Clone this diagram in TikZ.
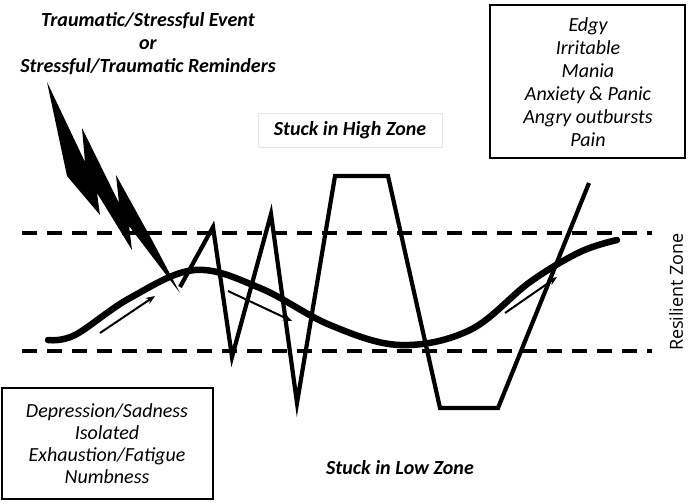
\documentclass[tikz,border=0pt]{standalone}
\usepackage{fontspec}
\setmainfont{Carlito}
\newfontfamily\rzfont{Open Sans}
\usetikzlibrary{arrows.meta}
\begin{document}
\begin{tikzpicture}[x=1pt,y=-1pt,
  txt/.style={font=\fontsize{20}{22}\selectfont\itshape, align=center, inner sep=0pt},
  btxt/.style={font=\fontsize{20}{22}\selectfont\bfseries\itshape, align=center, inner sep=0pt},
  box/.style={draw, line width=1.5pt},
  zone/.style={line width=3.3pt, dash pattern=on 15pt off 10pt},
  ar/.style={line width=2pt, -{Stealth[length=9pt,width=7pt]}}]
\useasboundingbox (0,0) rectangle (695,503);
% zone lines
\draw[zone] (22,233) -- (652,233);
\draw[zone] (22,351) -- (652,351);
\node[rotate=90, font=\rzfont\fontsize{18}{20}\selectfont] (rz) at (676,292) {Resilient Zone};
% boxes
\draw[box] (490,5) rectangle (685,158);
\node[txt] (hi) at (588,82) {Edgy\\[1pt]Irritable\\[1pt]Mania\\[1pt]Anxiety \& Panic\\[1pt]Angry outbursts\\[1pt]Pain};
\draw[box] (2,388) rectangle (213,499);
\node[txt] (lo) at (107,444) {Depression/Sadness\\Isolated\\Exhaustion/Fatigue\\Numbness};
\node[btxt] (ev) at (148,44) {Traumatic/Stressful Event\\[1pt]or\\[1pt]Stressful/Traumatic Reminders};
\node[btxt, draw=gray!20, line width=0.8pt, minimum width=184pt, minimum height=34pt] (sh) at (350,130) {Stuck in High Zone};
\node[btxt] (sl) at (400,468) {Stuck in Low Zone};
% lightning
\fill (47,82) -- (67,176) -- (100,215) -- (97,193) -- (132,250) -- (129,226) -- (180,293)
  -- (152,240) -- (116,175) -- (119,203) -- (82,128) -- (85,162) -- cycle;
% curve
\draw[line width=6.5pt, line cap=round] plot[smooth, tension=0.6] coordinates
  {(48,340) (75,335) (130,298) (195,270) (260,288) (330,325) (400,345) (470,330) (530,282) (580,252) (617,240)};
% zigzag
\draw[line width=4.2pt, line join=miter] (180,287) -- (213,227) -- (232,357) -- (271,214) -- (297,403)
  -- (335,176) -- (388,176) -- (440,408) -- (498,408) -- (589,183);
% arrows
\coordinate (a1) at (100,333); \coordinate (b1) at (155,296);
\coordinate (a2) at (228,291); \coordinate (b2) at (292,321);
\coordinate (a3) at (505,313); \coordinate (b3) at (557,277);
\draw[ar] (a1) -- (b1);
\draw[ar] (a2) -- (b2);
\draw[ar] (a3) -- (b3);
\end{tikzpicture}
\end{document}
